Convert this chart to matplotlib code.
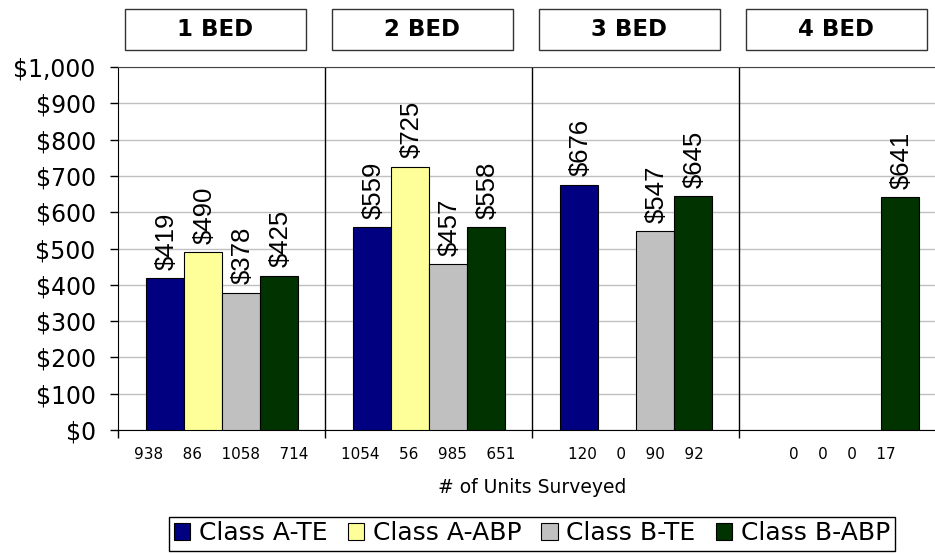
import numpy as np
import matplotlib.pyplot as plt
from matplotlib.patches import Rectangle

# bedroom groups and rent series
beds = ["1 BED", "2 BED", "3 BED", "4 BED"]
series = ["Class A-TE", "Class A-ABP", "Class B-TE", "Class B-ABP"]
colors = ["#000080", "#ffff99", "#c0c0c0", "#003300"]

# average rent ($), 0 = no units surveyed
rent_a_te = [419, 559, 676, 0]
rent_a_abp = [490, 725, 0, 0]
rent_b_te = [378, 457, 547, 0]
rent_b_abp = [425, 558, 645, 641]

# number of units surveyed
units_a_te = [938, 1054, 120, 0]
units_a_abp = [86, 56, 0, 0]
units_b_te = [1058, 985, 90, 0]
units_b_abp = [714, 651, 92, 17]

rents = [rent_a_te, rent_a_abp, rent_b_te, rent_b_abp]
units = [units_a_te, units_a_abp, units_b_te, units_b_abp]

fig = plt.figure(figsize=(9.35, 5.55), dpi=100)
ax = fig.add_axes([118 / 935, 125 / 555, 828 / 935, 363 / 555])

x = np.arange(len(beds))
width = 38 / 207

for i, (name, vals, color) in enumerate(zip(series, rents, colors)):
    offset = (i - 1.5) * width
    xs = [xi + offset for xi, v in zip(x, vals) if v]
    hs = [v for v in vals if v]
    ax.bar(xs, hs, width, color=color, edgecolor="black", linewidth=0.8,
           label=name, zorder=3)
    for xp, v in zip(xs, hs):
        ax.annotate(f"${v}", (xp, v), xytext=(1.5, 6), textcoords="offset points",
                    rotation=90, ha="center", va="bottom", fontsize=18.5,
                    family="Liberation Sans", zorder=4)

# y axis
ax.set_ylim(0, 1000)
yt = np.arange(0, 1001, 100)
ax.set_yticks(yt)
ax.set_yticklabels([f"${v:,}" for v in yt], fontsize=17)
ax.tick_params(axis="y", direction="out", length=6, pad=10, width=1)
ax.yaxis.grid(True, color="#c0c0c0", linewidth=1)
ax.set_axisbelow(True)

# x axis: group boundaries as major ticks, unit counts as minor labels
ax.set_xlim(-0.5, 3.5)
ax.set_xticks(np.arange(-0.5, 4, 1))
ax.set_xticklabels([])
ax.tick_params(axis="x", which="major", direction="out", length=6, width=1)
count_labels = ["    ".join(str(u[g]) for u in units) for g in range(len(beds))]
ax.set_xticks(x, minor=True)
ax.set_xticklabels(count_labels, minor=True, fontsize=11)
ax.tick_params(axis="x", which="minor", length=0, pad=12)
ax.set_xlabel("# of Units Surveyed", fontsize=13.5, labelpad=12)

for b in x[:-1] + 0.5:
    ax.axvline(b, color="black", linewidth=1, zorder=2)

for s in ["left", "bottom"]:
    ax.spines[s].set_color("black")
ax.spines["top"].set_color("#444444")

# bedroom header boxes
trans = ax.get_xaxis_transform()
for xi, bed in zip(x, beds):
    cx = xi - 0.03
    ax.add_patch(Rectangle((cx - 0.437, 1.047), 0.874, 0.113, transform=trans,
                           fill=False, edgecolor="#333333", linewidth=1,
                           clip_on=False))
    ax.text(cx, 1.103, bed, transform=trans, ha="center", va="center",
            fontsize=16.5, fontweight="bold")

leg = fig.legend(loc="center", bbox_to_anchor=(532 / 935, 1 - 533.5 / 555),
                 ncol=4, fontsize=18, fancybox=False, edgecolor="black",
                 framealpha=1, handlelength=0.65, handleheight=0.65,
                 handletextpad=0.35, columnspacing=0.8, borderpad=0.2,
                 borderaxespad=0)
leg.get_frame().set_linewidth(1)

fig.savefig("out.png", dpi=100)
